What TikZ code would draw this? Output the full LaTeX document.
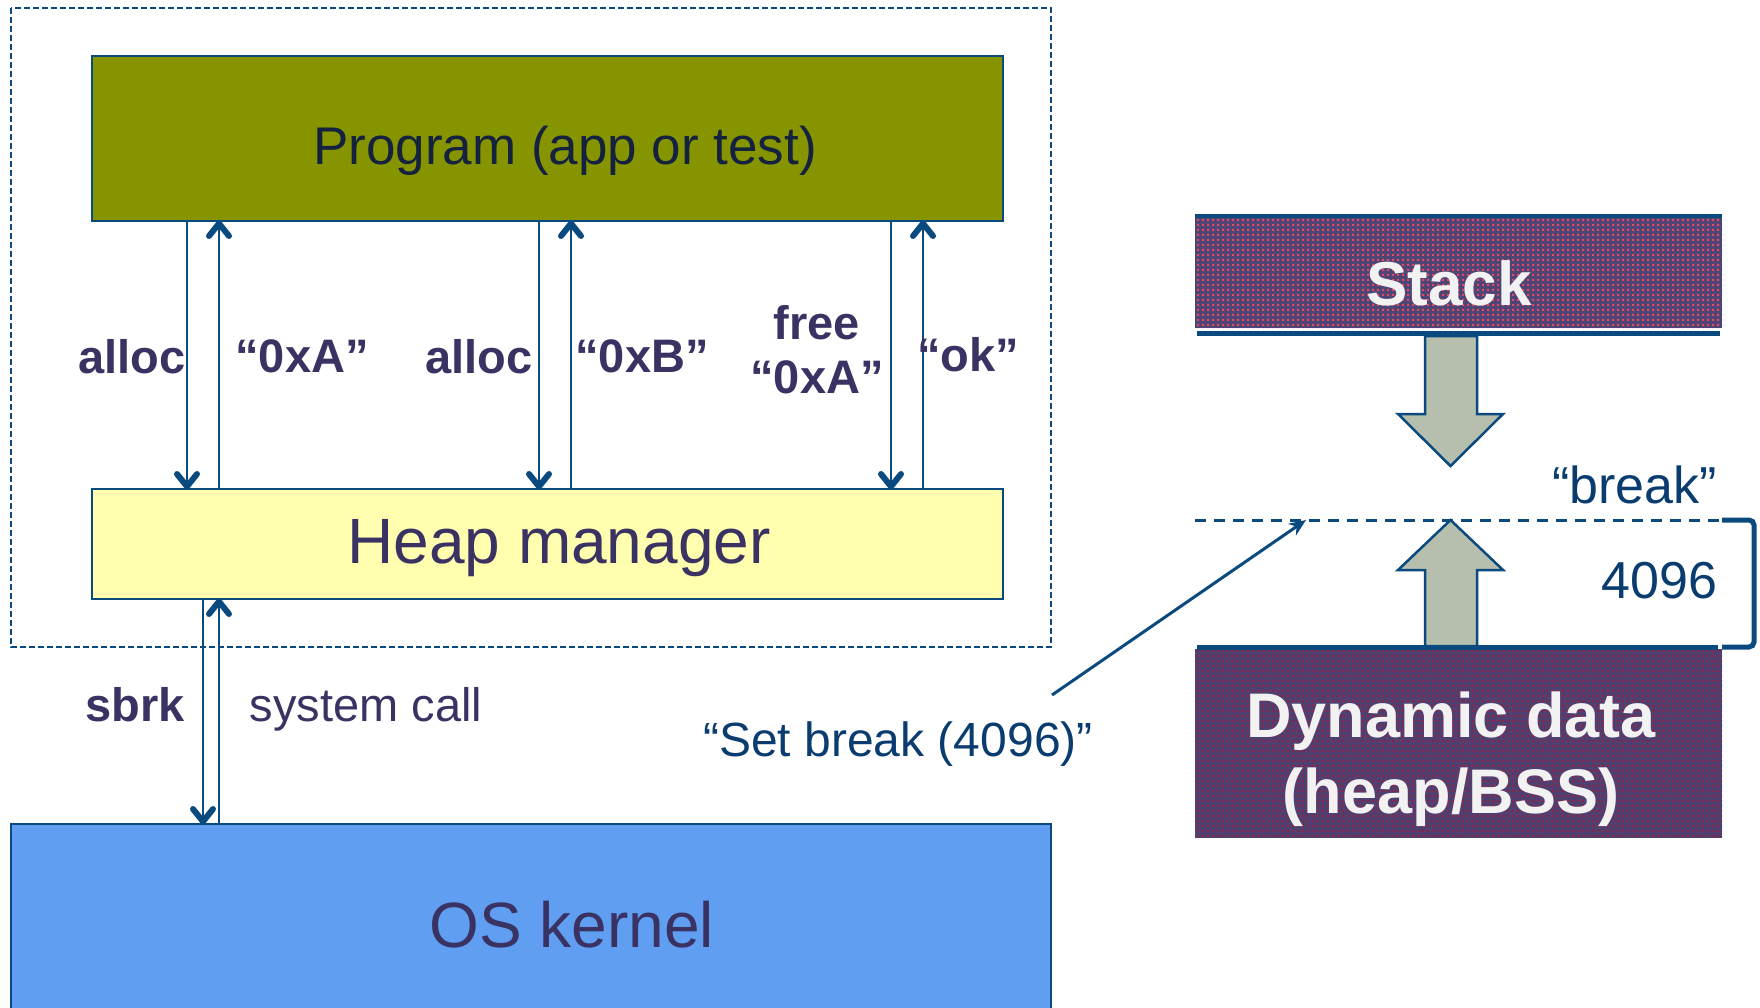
\documentclass[tikz,border=0pt]{standalone}
\usepackage{fontspec}
\setmainfont{Liberation Sans}
\usetikzlibrary{arrows.meta,patterns.meta}

\definecolor{linenavy}{HTML}{0B4A7E}
\definecolor{progolive}{HTML}{869400}
\definecolor{heapyellow}{HTML}{FFFFAF}
\definecolor{kernelblue}{HTML}{5F9EF0}
\definecolor{labelink}{HTML}{3A3262}
\definecolor{titleink}{HTML}{14223F}
\definecolor{noteblue}{HTML}{0A3C70}
\definecolor{blockgray}{HTML}{B6BFAD}
\definecolor{stackbase}{HTML}{4C4575}
\definecolor{stackdot}{HTML}{E8485F}
\definecolor{database}{HTML}{4E4070}
\definecolor{datadot}{HTML}{8E2448}

% small square dots used for the memory segments
\tikzdeclarepattern{
  name=memdots,
  type=uncolored,
  bottom left={(0pt,0pt)},
  top right={(4.6pt,4.6pt)},
  tile size={(4.6pt,4.6pt)},
  code={\fill (1.2pt,1.2pt) rectangle (3.4pt,3.4pt);}
}

% a call line from #1 to #2, ending in an open chevron head at #2
% (#3 = +1 when the head points down, -1 when it points up)
\newcommand\callline[3]{%
  \draw[callshaft] (#1) -- (#2);
  \draw[callhead] ([shift={(-10,-15*#3)}]#2) -- ([shift={(0,-2.5*#3)}]#2) -- ([shift={(10,-15*#3)}]#2);
}

\begin{document}
\begin{tikzpicture}[
  x=1pt, y=-1pt,
  box/.style={draw=linenavy, line width=2pt, inner sep=0pt, outer sep=0pt},
  % font size and cap height (0.72 of the size), so a node centres on its capitals
  fs/.style 2 args={font=\fontsize{#1pt}{#1pt}\selectfont, text height=#2pt},
  txt/.style={inner sep=0pt, outer sep=0pt, text depth=0pt, anchor=center},
  lbl/.style={txt, fs={47}{33.84}, font=\fontsize{47pt}{47pt}\selectfont\bfseries, text=labelink},
  callshaft/.style={draw=linenavy, line width=2pt},
  callhead/.style={draw=linenavy, line width=6pt, line cap=round, line join=round},
  blockarrow/.style={draw=linenavy, line width=2.5pt, fill=blockgray, line join=miter},
  segment/.style={inner sep=0pt, outer sep=0pt, minimum width=527pt},
  segtext/.style={txt, fs={63}{45.36}, font=\fontsize{63pt}{63pt}\selectfont\bfseries, text=white!95!black},
  note/.style={txt, text=noteblue},
]
\useasboundingbox (0,0) rectangle (1760,1008);
\clip (0,0) rectangle (1760,1008);

% ---------- left: program, heap manager, kernel ----------
\draw[linenavy, line width=2pt, dash pattern=on 6pt off 3pt] (11,8) rectangle (1051,647);

\node[box, fill=progolive, minimum width=911pt, minimum height=165pt] (prog) at (547.5,138.5) {};
\node[box, fill=heapyellow, minimum width=911pt, minimum height=110pt] (heap) at (547.5,544) {};
\node[box, fill=kernelblue, minimum width=1040pt, minimum height=200pt] (kernel) at (531,924) {};

\node[txt, fs={53}{38.16}, text=titleink] (progtext) at (565,145) {Program (app or test)};
\node[txt, fs={64}{46.08}, text=labelink] (heaptext) at (559,540) {Heap manager};
\node[txt, fs={64}{46.08}, text=labelink] (kerneltext) at (572,924) {OS kernel};

% end points of the calls
\coordinate (p1) at ([xshift=-360.5pt]prog.south);  \coordinate (h1) at ([xshift=-360.5pt]heap.north);
\coordinate (p2) at ([xshift=-328.5pt]prog.south);  \coordinate (h2) at ([xshift=-328.5pt]heap.north);
\coordinate (p3) at ([xshift=-8.5pt]prog.south);    \coordinate (h3) at ([xshift=-8.5pt]heap.north);
\coordinate (p4) at ([xshift=23.5pt]prog.south);    \coordinate (h4) at ([xshift=23.5pt]heap.north);
\coordinate (p5) at ([xshift=343.5pt]prog.south);   \coordinate (h5) at ([xshift=343.5pt]heap.north);
\coordinate (p6) at ([xshift=375.5pt]prog.south);   \coordinate (h6) at ([xshift=375.5pt]heap.north);
\coordinate (s1) at ([xshift=-344.5pt]heap.south);  \coordinate (k1) at ([xshift=-328pt]kernel.north);
\coordinate (s2) at ([xshift=-328.5pt]heap.south);  \coordinate (k2) at ([xshift=-312pt]kernel.north);

% calls between program and heap manager
\callline{p1}{h1}{1}
\callline{h2}{p2}{-1}
\callline{p3}{h3}{1}
\callline{h4}{p4}{-1}
\callline{p5}{h5}{1}
\callline{h6}{p6}{-1}
% system call between heap manager and kernel
\callline{s1}{k1}{1}
\callline{k2}{s2}{-1}

\node[lbl] (l1) at (132,357) {alloc};
\node[lbl] (l2) at (302,356) {“0xA”};
\node[lbl] (l3) at (479,357) {alloc};
\node[lbl] (l4) at (642,356) {“0xB”};
\node[lbl] (l5) at (817,323) {free};
\node[lbl] (l6) at (817,377) {“0xA”};
\node[lbl] (l7) at (968,355) {“ok”};
\node[lbl] (l8) at (135,705) {sbrk};
\node[txt, fs={47}{33.84}, text=labelink] (l9) at (366,705) {system call};

% ---------- right: address space ----------
\node[segment, minimum height=112pt, fill=stackbase,
      postaction={pattern=memdots, pattern color=stackdot}] (stack) at (1458.5,272) {};
\draw[linenavy, line width=4pt] (stack.north west) -- (stack.north east);
\draw[linenavy, line width=5pt] (1197,333.5) -- (1720,333.5);
\node[txt, fs={62}{44.64}, font=\fontsize{62pt}{62pt}\selectfont\bfseries, text=white!95!black] (stacktext) at (1449,283) {Stack};

\draw[blockarrow] (1425,336) -- (1477,336) -- (1477,414) -- (1503,414) -- (1450.5,466)
  -- (1398,414) -- (1425,414) -- cycle;
\draw[blockarrow] (1425,646) -- (1425,570) -- (1398,570) -- (1450.5,520) -- (1503,570)
  -- (1477,570) -- (1477,646) -- cycle;

\coordinate (brkL) at (1195,520);
\coordinate (brkR) at (1722,520);
\coordinate (brkpt) at (1306,520);
\draw[linenavy, line width=3pt, dash pattern=on 11pt off 8pt] (brkL) -- (brkR);

\node[segment, minimum height=189pt, fill=database,
      postaction={pattern=memdots, pattern color=datadot}] (data) at (1458.5,743.5) {};
\draw[linenavy, line width=5pt] (1197,647) -- (1718,647);
\node[segtext] (datatext1) at (1451,715) {Dynamic data};
\node[segtext] (datatext2) at (1451,791) {(heap/BSS)};

% size bracket
\draw[linenavy, line width=5pt, rounded corners=5pt] (brkR) -- (1754,520) -- (1754,647) -- (1722,647);

\node[note, fs={52}{37.44}, anchor=east] (breaktext) at (1717,485) {“break”};
\node[note, fs={52}{37.44}, anchor=east] (sizetext) at (1717,580) {4096};

\node[note, fs={48}{34.56}] (settext) at (898,739) {“Set break (4096)”};
\coordinate (sbfrom) at (1052,695);
\draw[linenavy, line width=3pt, -{Stealth[length=17pt,width=14pt]}] (sbfrom) -- (brkpt);
\end{tikzpicture}
\end{document}
